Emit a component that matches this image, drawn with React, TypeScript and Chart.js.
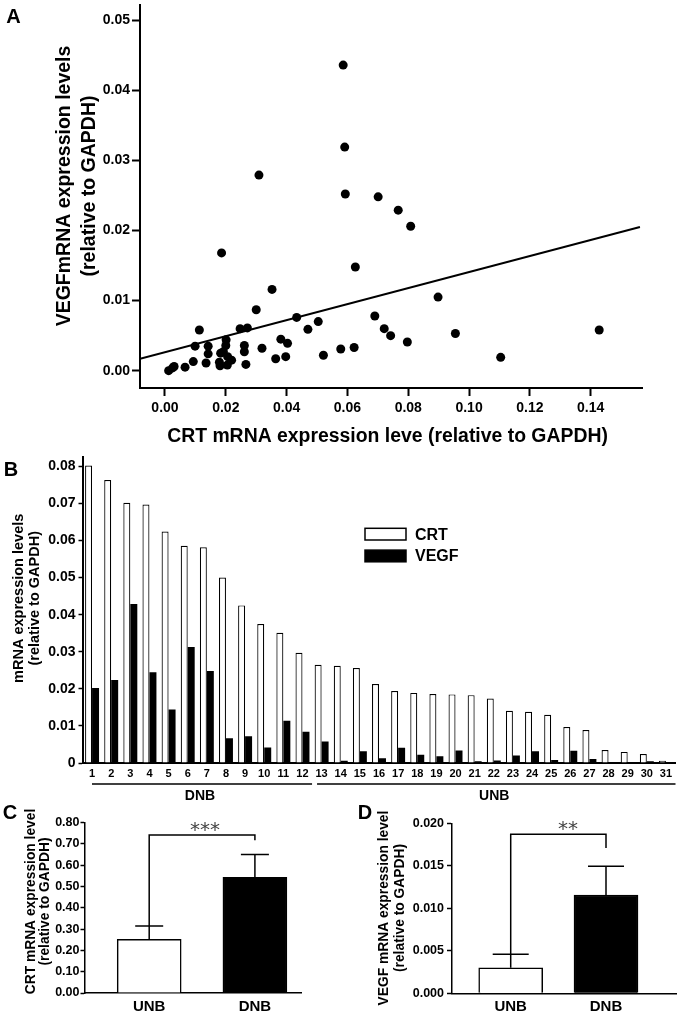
import React, { useEffect, useRef } from 'react';
import { Chart, registerables } from 'chart.js';

Chart.register(...registerables);

const FONT = '"Liberation Sans", Arial, Helvetica, sans-serif';

// ---------- Panel A: CRT vs VEGF scatter ----------
const crtLevels = [0.0586, 0.0591, 0.0309, 0.0593, 0.0701, 0.0767, 0.0808, 0.0186, 0.0626, 0.0352, 0.0898, 0.0300, 0.0433, 0.0504, 0.0690, 0.0113, 0.0247, 0.0271, 0.0470, 0.0099, 0.0142, 0.0201, 0.0381, 0.0403, 0.0261, 0.0261, 0.0319, 0.0142, 0.0183, 0.0093, 0.0135, 0.0179, 0.0219, 0.0205, 0.0181, 0.0266, 0.0364, 0.0397, 0.0521, 0.0578, 0.0066, 0.0030, 0.0012, 0.0721, 0.0742, 0.0797, 0.0955, 0.0622, 0.1104, 0.1428, 0.0192, 0.0200, 0.0025, 0.0206];
const vegfLevels = [0.0436, 0.0319, 0.0279, 0.0252, 0.0248, 0.0229, 0.0206, 0.0168, 0.0148, 0.0116, 0.0105, 0.0087, 0.0076, 0.0070, 0.0078, 0.0058, 0.0060, 0.0061, 0.0059, 0.0035, 0.0035, 0.0044, 0.0045, 0.0039, 0.0036, 0.0027, 0.0032, 0.0024, 0.0025, 0.0013, 0.0011, 0.0012, 0.0015, 0.0008, 0.0007, 0.0009, 0.0017, 0.0020, 0.0022, 0.0031, 0.0005, 0.0006, 0.0000, 0.0060, 0.0050, 0.0041, 0.0053, 0.0033, 0.0019, 0.0058, 0.0027, 0.0036, 0.0004, 0.0020];
const fitLineX = [-0.0082, 0.1562];
const fitLineY = [0.0017, 0.0205];
const aXTicks = [0, 0.02, 0.04, 0.06, 0.08, 0.10, 0.12, 0.14];
const aYTicks = [0, 0.01, 0.02, 0.03, 0.04, 0.05];

// ---------- Panel B: per-patient bars ----------
const patients = ['1', '2', '3', '4', '5', '6', '7', '8', '9', '10', '11', '12', '13', '14', '15', '16', '17', '18', '19', '20', '21', '22', '23', '24', '25', '26', '27', '28', '29', '30', '31'];
const crtByPatient = [0.0802, 0.0763, 0.0702, 0.0697, 0.0624, 0.0586, 0.0582, 0.0500, 0.0425, 0.0375, 0.0351, 0.0297, 0.0265, 0.0262, 0.0256, 0.0213, 0.0194, 0.0189, 0.0186, 0.0185, 0.0183, 0.0174, 0.0141, 0.0138, 0.0130, 0.0097, 0.0089, 0.0035, 0.0030, 0.0024, 0.0006];
const vegfByPatient = [0.0202, 0.0224, 0.0429, 0.0245, 0.0144, 0.0313, 0.0248, 0.0067, 0.0072, 0.0042, 0.0114, 0.0084, 0.0058, 0.0006, 0.0032, 0.0013, 0.0041, 0.0022, 0.0018, 0.0034, 0.0005, 0.0007, 0.0020, 0.0032, 0.0008, 0.0033, 0.0011, 0.0003, 0.0001, 0.0005, 0.0000];
const bYTicks = [0, 0.01, 0.02, 0.03, 0.04, 0.05, 0.06, 0.07, 0.08];
const patientGroups = ['DNB', 'UNB'];
const patientGroupSizes = [12, 19];

// ---------- Panels C & D: group means ----------
const groups = ['UNB', 'DNB'];
const crtMeans = [0.252, 0.543];
const crtSem = [0.063, 0.108];
const cYTicks = [0, 0.1, 0.2, 0.3, 0.4, 0.5, 0.6, 0.7, 0.8];
const crtBracket = { y: 0.742, rightDrop: 0.718, label: '***' };
const vegfMeans = [0.0030, 0.01156];
const vegfSem = [0.0016, 0.0034];
const dYTicks = [0, 0.005, 0.010, 0.015, 0.020];
const vegfBracket = { y: 0.0187, rightDrop: 0.0171, label: '**' };

// ---------- helpers ----------
const fixSize = (size: number) => (scale: any) => {
  if (scale.isHorizontal()) scale.height = size;
  else scale.width = size;
  scale.paddingLeft = 0;
  scale.paddingRight = 0;
  scale.paddingTop = 0;
  scale.paddingBottom = 0;
};
const setTicks = (vals: number[]) => (scale: any) => {
  scale.ticks = vals.map((v) => ({ value: v }));
};
const font = (size: number, weight = 'bold') => ({ family: FONT, size, weight });

const textPlugin = {
  id: 'panelText',
  afterDraw(chart: any, _a: any, opts: any) {
    const ctx = chart.ctx;
    (opts.items || []).forEach((it: any) => {
      ctx.save();
      ctx.fillStyle = '#000';
      ctx.font = `${it.weight || 'bold'} ${it.size}px ${FONT}`;
      ctx.textAlign = 'center';
      ctx.textBaseline = 'middle';
      ctx.translate(it.x, it.y);
      if (it.rotate) ctx.rotate(-Math.PI / 2);
      const lines: string[] = it.text;
      const lh = it.lineHeight || it.size * 1.2;
      lines.forEach((ln, i) => ctx.fillText(ln, 0, (i - (lines.length - 1) / 2) * lh));
      ctx.restore();
    });
  },
};

const legendPlugin = {
  id: 'boxLegend',
  afterDraw(chart: any, _a: any, o: any) {
    if (!o || o.x === undefined) return;
    const ctx = chart.ctx;
    chart.data.datasets.forEach((ds: any, i: number) => {
      const bx = o.x;
      const by = o.y + i * o.gap;
      ctx.save();
      ctx.fillStyle = ds.backgroundColor;
      ctx.fillRect(bx, by, o.w, o.h);
      ctx.strokeStyle = '#000';
      ctx.lineWidth = 1.5;
      ctx.strokeRect(bx, by, o.w, o.h);
      ctx.fillStyle = '#000';
      ctx.font = `bold ${o.size}px ${FONT}`;
      ctx.textAlign = 'left';
      ctx.textBaseline = 'middle';
      ctx.fillText(ds.label, bx + o.w + o.textGap, by + o.h / 2 + 1);
      ctx.restore();
    });
  },
};

const groupPlugin = {
  id: 'groupLabels',
  afterDraw(chart: any, _a: any, o: any) {
    if (!o || !o.names) return;
    const ctx = chart.ctx;
    const xs = chart.scales.x;
    const half = (xs.getPixelForValue(1) - xs.getPixelForValue(0)) / 2;
    let start = 0;
    o.names.forEach((name: string, gi: number) => {
      const n = o.sizes[gi];
      const x0 = xs.getPixelForValue(start) - half + o.insets[gi][0];
      const x1 = xs.getPixelForValue(start + n - 1) + half - o.insets[gi][1];
      ctx.save();
      ctx.strokeStyle = '#000';
      ctx.lineWidth = 1.5;
      ctx.beginPath();
      ctx.moveTo(x0, o.lineY);
      ctx.lineTo(x1, o.lineY);
      ctx.stroke();
      ctx.fillStyle = '#000';
      ctx.font = `bold ${o.size}px ${FONT}`;
      ctx.textAlign = 'center';
      ctx.textBaseline = 'middle';
      ctx.fillText(name, (x0 + x1) / 2 - 2, o.textY);
      ctx.restore();
      start += n;
    });
  },
};

const sigPlugin = {
  id: 'sigMarks',
  afterDatasetsDraw(chart: any, _a: any, o: any) {
    if (!o || !o.means) return;
    const ctx = chart.ctx;
    const xs = chart.scales.x;
    const ys = chart.scales.y;
    const px = (i: number) => xs.getPixelForValue(i);
    const py = (v: number) => ys.getPixelForValue(v);
    ctx.save();
    ctx.strokeStyle = '#000';
    ctx.lineWidth = 1.5;
    o.means.forEach((m: number, i: number) => {
      const x = px(i);
      const y0 = py(m);
      const y1 = py(m + o.sem[i]);
      ctx.beginPath();
      ctx.moveTo(x, y0);
      ctx.lineTo(x, y1);
      ctx.moveTo(x - o.cap / 2, y1);
      ctx.lineTo(x + o.cap / 2, y1);
      ctx.stroke();
    });
    const yb = py(o.bracket.y);
    ctx.beginPath();
    ctx.moveTo(px(0), py(o.means[0] + o.sem[0]));
    ctx.lineTo(px(0), yb);
    ctx.lineTo(px(1), yb);
    ctx.lineTo(px(1), py(o.bracket.rightDrop));
    ctx.stroke();
    ctx.fillStyle = '#444';
    ctx.font = `normal ${o.starSize}px "DejaVu Sans", sans-serif`;
    ctx.textAlign = 'center';
    ctx.textBaseline = 'alphabetic';
    ctx.fillText(o.bracket.label, xs.getPixelForValue(o.starX), yb - o.starGap + 0.575 * o.starSize);
    ctx.restore();
  },
};

const baseOptions = (extra: any) => ({
  animation: false,
  responsive: false,
  devicePixelRatio: 1,
  events: [],
  ...extra,
});

// ---------- chart configs ----------
const configA = () => ({
  type: 'scatter',
  data: {
    datasets: [
      {
        type: 'line',
        label: 'Linear fit',
        data: fitLineX.map((x, i) => ({ x, y: fitLineY[i] })),
        borderColor: '#000',
        borderWidth: 2,
        pointRadius: 0,
        showLine: true,
        fill: false,
      },
      {
        label: 'Samples',
        data: crtLevels.map((x, i) => ({ x, y: vegfLevels[i] })),
        backgroundColor: '#000',
        borderColor: '#000',
        borderWidth: 0,
        pointRadius: 4.5,
      },
    ],
  },
  plugins: [textPlugin],
  options: baseOptions({
    layout: { padding: { left: 0, right: 43, top: 5, bottom: 0 } },
    plugins: {
      legend: { display: false },
      tooltip: { enabled: false },
      panelText: {
        items: [
          { text: ['A'], x: 13.5, y: 17.5, size: 20 },
          { text: ['VEGFmRNA expression levels', '(relative to GAPDH)'], x: 77.5, y: 186, size: 19.5, lineHeight: 25, rotate: true },
          { text: ['CRT mRNA expression leve (relative to GAPDH)'], x: 387.5, y: 436.7, size: 19.4 },
        ],
      },
    },
    scales: {
      x: {
        type: 'linear',
        min: -0.00822,
        max: 0.15687,
        afterBuildTicks: setTicks(aXTicks),
        afterFit: fixSize(62),
        grid: { display: true, drawOnChartArea: false, drawTicks: true, tickLength: 8, tickWidth: 2, tickColor: '#000' },
        border: { display: true, color: '#000', width: 2 },
        ticks: { color: '#000', font: font(14), padding: 3.6, autoSkip: false, maxRotation: 0, callback: (v: any) => Number(v).toFixed(2) },
      },
      y: {
        type: 'linear',
        min: -0.00247,
        max: 0.05217,
        afterBuildTicks: setTicks(aYTicks),
        afterFit: fixSize(140),
        grid: { display: true, drawOnChartArea: false, drawTicks: true, tickLength: 8, tickWidth: 2, tickColor: '#000' },
        border: { display: true, color: '#000', width: 2 },
        ticks: { color: '#000', font: font(14), padding: 2, callback: (v: any) => Number(v).toFixed(2) },
      },
    },
  }),
});

const configB = () => ({
  type: 'bar',
  data: {
    labels: patients,
    datasets: [
      { label: 'CRT', data: crtByPatient, backgroundColor: '#ffffff', borderColor: '#000', borderWidth: 1.2 },
      { label: 'VEGF', data: vegfByPatient, backgroundColor: '#000000', borderColor: '#000', borderWidth: 0 },
    ],
  },
  plugins: [textPlugin, legendPlugin, groupPlugin],
  options: baseOptions({
    datasets: { bar: { categoryPercentage: 0.73, barPercentage: 1 } },
    layout: { padding: { left: 0, right: 9.5, top: 6.7, bottom: 0 } },
    plugins: {
      legend: { display: false },
      tooltip: { enabled: false },
      panelText: {
        items: [
          { text: ['B'], x: 11, y: 20, size: 20 },
          { text: ['mRNA expression levels', '(relative to GAPDH)'], x: 26.9, y: 148.3, size: 14.5, lineHeight: 16.2, rotate: true },
        ],
      },
      boxLegend: { x: 365, y: 78.3, w: 41, h: 11.7, gap: 21.8, textGap: 9, size: 16 },
      groupLabels: { names: patientGroups, sizes: patientGroupSizes, insets: [[9.5, 0], [5, 0]], lineY: 334, textY: 346.5, size: 14 },
    },
    scales: {
      x: {
        afterFit: fixSize(42),
        grid: { display: false, drawTicks: false },
        border: { display: true, color: '#000', width: 2 },
        ticks: { color: '#000', font: font(11), padding: 4, autoSkip: false, maxRotation: 0, minRotation: 0 },
      },
      y: {
        min: 0,
        max: 0.0826,
        afterBuildTicks: setTicks(bYTicks),
        afterFit: fixSize(82.5),
        grid: { display: true, drawOnChartArea: false, drawTicks: true, tickLength: 4, tickWidth: 1.5, tickColor: '#000' },
        border: { display: true, color: '#000', width: 2 },
        ticks: { color: '#000', font: font(14), padding: 3, callback: (v: any) => (Number(v) === 0 ? '0' : Number(v).toFixed(2)) },
      },
    },
  }),
});

const groupBarConfig = (p: any) => ({
  type: 'bar',
  data: {
    datasets: [
      {
        label: p.label,
        data: p.means.map((m: number, i: number) => ({ x: i, y: m })),
        backgroundColor: ['#ffffff', '#000000'],
        borderColor: '#000',
        borderWidth: 1.5,
        barThickness: 64,
      },
    ],
  },
  plugins: [textPlugin, sigPlugin],
  options: baseOptions({
    layout: { padding: p.padding },
    plugins: {
      legend: { display: false },
      tooltip: { enabled: false },
      panelText: { items: p.texts },
      sigMarks: { means: p.means, sem: p.sem, cap: p.cap, bracket: p.bracket, starX: p.starX, starSize: 20, starGap: 10.5 },
    },
    scales: {
      x: {
        type: 'linear',
        offset: false,
        min: p.xMin,
        max: p.xMax,
        afterBuildTicks: setTicks(groups.map((_g, i) => i)),
        afterFit: fixSize(p.xHeight),
        grid: { display: false, drawTicks: false, offset: false },
        border: { display: true, color: '#000', width: 1.5 },
        ticks: { color: '#000', font: font(15), padding: 4.7, autoSkip: false, maxRotation: 0, callback: (v: any) => groups[Math.round(Number(v))] },
      },
      y: {
        min: 0,
        max: p.yMax,
        afterBuildTicks: setTicks(p.yTicks),
        afterFit: fixSize(p.yWidth),
        grid: { display: true, drawOnChartArea: false, drawTicks: true, tickLength: p.tickLength, tickWidth: 1.5, tickColor: '#000' },
        border: { display: true, color: '#000', width: 1.5 },
        ticks: { color: '#000', font: font(12.5), padding: p.tickPad, callback: (v: any) => Number(v).toFixed(p.digits) },
      },
    },
  }),
});

const configC = () =>
  groupBarConfig({
    label: 'CRT mRNA expression level',
    means: crtMeans,
    sem: crtSem,
    bracket: crtBracket,
    cap: 28,
    starX: 0.528,
    xMin: -0.612,
    xMax: 1.436,
    yMax: 0.8,
    yTicks: cYTicks,
    digits: 2,
    padding: { left: 0, right: 39, top: 17.7, bottom: 0 },
    xHeight: 20,
    yWidth: 84.5,
    tickLength: 4,
    tickPad: 1,
    texts: [
      { text: ['C'], x: 10, y: 8.5, size: 20 },
      { text: ['CRT mRNA expression level', '(relative to GAPDH)'], x: 38.3, y: 96.5, size: 13.8, lineHeight: 14.5, rotate: true },
    ],
  });

const configD = () =>
  groupBarConfig({
    label: 'VEGF mRNA expression level',
    means: vegfMeans,
    sem: vegfSem,
    bracket: vegfBracket,
    cap: 36,
    starX: 0.6,
    xMin: -0.616,
    xMax: 1.7345,
    yMax: 0.02,
    yTicks: dYTicks,
    digits: 3,
    padding: { left: 0, right: 9, top: 18.3, bottom: 0 },
    xHeight: 19.7,
    yWidth: 112,
    tickLength: 5,
    tickPad: 3,
    texts: [
      { text: ['D'], x: 25, y: 8.5, size: 20 },
      { text: ['VEGF mRNA expression level', '(relative to GAPDH)'], x: 52, y: 103, size: 13.8, lineHeight: 15.5, rotate: true },
    ],
  });

function Panel(props: { left: number; top: number; width: number; height: number; build: () => any }) {
  const ref = useRef<HTMLCanvasElement>(null);
  useEffect(() => {
    const chart = new Chart(ref.current as HTMLCanvasElement, props.build());
    return () => chart.destroy();
  }, []);
  return (
    <canvas
      ref={ref}
      width={props.width}
      height={props.height}
      style={{ position: 'absolute', left: props.left, top: props.top, width: props.width, height: props.height }}
    />
  );
}

export default function App() {
  return (
    <div style={{ position: 'fixed', left: 0, top: 0, width: 685, height: 1013, background: '#fff', overflow: 'hidden' }}>
      <Panel left={0} top={0} width={685} height={450} build={configA} />
      <Panel left={0} top={450} width={685} height={355} build={configB} />
      <Panel left={0} top={805} width={340} height={208} build={configC} />
      <Panel left={340} top={805} width={345} height={208} build={configD} />
    </div>
  );
}
